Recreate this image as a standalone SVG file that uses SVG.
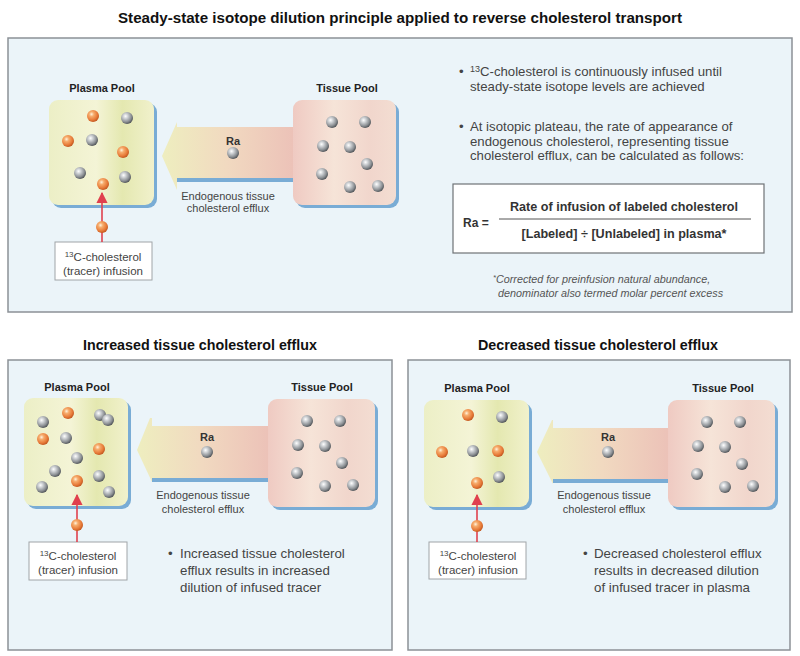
<svg xmlns="http://www.w3.org/2000/svg" width="800" height="656" viewBox="0 0 800 656">
<defs>
<radialGradient id="gGray" cx="0.38" cy="0.35" r="0.65">
<stop offset="0" stop-color="#ffffff"/><stop offset="0.3" stop-color="#cfd2d5"/><stop offset="0.75" stop-color="#8a8e92"/><stop offset="1" stop-color="#55595d"/>
</radialGradient>
<radialGradient id="gOrange" cx="0.38" cy="0.35" r="0.65">
<stop offset="0" stop-color="#fff2dc"/><stop offset="0.3" stop-color="#f6ac6c"/><stop offset="0.75" stop-color="#e77a38"/><stop offset="1" stop-color="#c55a22"/>
</radialGradient>
<linearGradient id="gPlasma" x1="0" x2="1" y1="0" y2="0">
<stop offset="0" stop-color="#ecefc6"/><stop offset="0.45" stop-color="#f4f4d6"/><stop offset="0.7" stop-color="#e4e8b0"/><stop offset="1" stop-color="#f1f1cc"/>
</linearGradient>
<linearGradient id="gTissue" x1="0" x2="1" y1="0" y2="0">
<stop offset="0" stop-color="#efcac2"/><stop offset="0.4" stop-color="#f6e4d8"/><stop offset="0.75" stop-color="#f1d6cc"/><stop offset="1" stop-color="#f3ddd2"/>
</linearGradient>
<linearGradient id="gArrow" x1="0" x2="1" y1="0" y2="0">
<stop offset="0" stop-color="#eeeebf"/><stop offset="0.5" stop-color="#f1d9c0"/><stop offset="1" stop-color="#ecc2b8"/>
</linearGradient>
<marker id="redHead" viewBox="0 0 10 10" refX="9" refY="5" markerWidth="7" markerHeight="7" orient="auto">
<path d="M0,0 L10,5 L0,10 Z" fill="#e0404e"/>
</marker>
<g id="tissueBalls">
<circle class="gb" cx="39" cy="22" r="6"/><circle class="gb" cx="72" cy="22" r="6"/>
<circle class="gb" cx="30" cy="46" r="6"/><circle class="gb" cx="57" cy="47" r="6"/>
<circle class="gb" cx="74" cy="64" r="6"/><circle class="gb" cx="29" cy="74" r="6"/>
<circle class="gb" cx="57" cy="87" r="6"/><circle class="gb" cx="85" cy="86" r="6"/>
</g>
</defs>
<style>
.panel{fill:#ebf4f9;stroke:#8c9196;stroke-width:1.5}
.shadow{fill:#79acd5}
.plasma{fill:url(#gPlasma)}
.tissue{fill:url(#gTissue)}
.arrow{fill:url(#gArrow)}
.gb{fill:url(#gGray)}
.ob{fill:url(#gOrange)}
.lbox{fill:#ffffff;stroke:#a0a4a8;stroke-width:1}
.fbox{fill:#ffffff;stroke:#6e7276;stroke-width:1.2}
.red{stroke:#e0404e;stroke-width:1.6;fill:none}
text{font-family:"Liberation Sans",Arial,sans-serif;fill:#333}
.title{font-size:14.5px;font-weight:bold;fill:#111;text-anchor:middle}
.pool{font-size:11px;font-weight:bold;fill:#222;text-anchor:middle}
.ra{font-size:11px;font-weight:bold;fill:#333;text-anchor:middle}
.small{font-size:11px;fill:#444;text-anchor:middle}
.lab{font-size:11.5px;fill:#444;text-anchor:middle}
.body{font-size:13.2px;fill:#444}
.body2{font-size:13.3px;fill:#444}
.form{font-size:12px;font-weight:bold;fill:#333}
.foot{font-size:10.8px;font-style:italic;fill:#555}
</style>

<!-- ================= TOP PANEL ================= -->
<text class="title" x="400" y="23" textLength="564" lengthAdjust="spacingAndGlyphs">Steady-state isotope dilution principle applied to reverse cholesterol transport</text>
<rect class="panel" x="8" y="38" width="784" height="274"/>

<g id="top-plasma-pool">
<rect class="shadow" x="52" y="103" width="105" height="105" rx="9"/>
<rect class="plasma" x="49" y="100" width="105" height="105" rx="9"/>
<text class="pool" x="102" y="92">Plasma Pool</text>
<circle class="ob" cx="93" cy="116" r="6"/><circle class="gb" cx="127" cy="118" r="6"/>
<circle class="ob" cx="68" cy="141" r="6"/><circle class="gb" cx="92" cy="140" r="6"/>
<circle class="ob" cx="123" cy="152" r="6"/><circle class="gb" cx="80" cy="173" r="6"/>
<circle class="ob" cx="103" cy="184" r="6"/><circle class="gb" cx="125" cy="177" r="6"/>
</g>

<g id="top-tissue-pool">
<rect class="shadow" x="296" y="103" width="103" height="105" rx="9"/>
<rect class="tissue" x="293" y="100" width="103" height="105" rx="9"/>
<text class="pool" x="347" y="92">Tissue Pool</text>
<use href="#tissueBalls" x="293" y="100"/>
</g>

<g id="top-tracer-label">
<rect class="lbox" x="55" y="242" width="97" height="38"/>
<text class="lab" x="103" y="261"><tspan font-size="8" dy="-4">13</tspan><tspan dy="4">C-cholesterol</tspan></text>
<text class="lab" x="103" y="275">(tracer) infusion</text>
</g>

<g id="top-text">
<text class="body" x="459" y="76">•</text>
<text class="body" x="470" y="76"><tspan font-size="9" dy="-4">13</tspan><tspan dy="4">C-cholesterol is continuously infused until</tspan></text>
<text class="body" x="470" y="91">steady-state isotope levels are achieved</text>
<text class="body" x="459" y="131">•</text>
<text class="body" x="470" y="131">At isotopic plateau, the rate of appearance of</text>
<text class="body" x="470" y="146">endogenous cholesterol, representing tissue</text>
<text class="body" x="470" y="160">cholesterol efflux, can be calculated as follows:</text>
</g>

<g id="formula">
<rect class="fbox" x="453" y="184" width="311" height="69"/>
<text class="form" x="463" y="227">Ra =</text>
<line x1="499" y1="219" x2="751" y2="219" stroke="#555" stroke-width="1"/>
<text class="form" x="624" y="211" text-anchor="middle" textLength="228" lengthAdjust="spacingAndGlyphs">Rate of infusion of labeled cholesterol</text>
<text class="form" x="624" y="238" text-anchor="middle" textLength="205" lengthAdjust="spacingAndGlyphs">[Labeled] ÷ [Unlabeled] in plasma*</text>
</g>

<g id="footnote">
<text class="foot" x="493" y="283"><tspan font-size="7.5" dy="-3">*</tspan><tspan dy="3">Corrected for preinfusion natural abundance,</tspan></text>
<text class="foot" x="498" y="297">denominator also termed molar percent excess</text>
</g>

<!-- ================= BOTTOM LEFT PANEL ================= -->
<text class="title" x="200" y="350" textLength="234" lengthAdjust="spacingAndGlyphs">Increased tissue cholesterol efflux</text>
<rect class="panel" x="8" y="360" width="384" height="290"/>

<g id="inc-plasma-pool">
<rect class="shadow" x="27" y="401" width="104" height="108" rx="9"/>
<rect class="plasma" x="24" y="398" width="104" height="108" rx="9"/>
<text class="pool" x="77" y="391">Plasma Pool</text>
<circle class="gb" cx="43" cy="422" r="6"/><circle class="ob" cx="68" cy="413" r="6"/>
<circle class="gb" cx="100" cy="415" r="6"/><circle class="gb" cx="108" cy="420" r="6"/>
<circle class="ob" cx="43" cy="439" r="6"/><circle class="gb" cx="66" cy="438" r="6"/>
<circle class="ob" cx="99" cy="449" r="6"/><circle class="gb" cx="77" cy="458" r="6"/>
<circle class="gb" cx="55" cy="471" r="6"/><circle class="gb" cx="99" cy="476" r="6"/>
<circle class="ob" cx="77" cy="481" r="6"/><circle class="gb" cx="42" cy="487" r="6"/>
<circle class="gb" cx="109" cy="492" r="6"/>
</g>

<g id="inc-tissue-pool">
<rect class="shadow" x="271" y="402" width="107" height="108" rx="9"/>
<rect class="tissue" x="268" y="399" width="107" height="108" rx="9"/>
<text class="pool" x="322" y="391">Tissue Pool</text>
<use href="#tissueBalls" x="268" y="399"/>
</g>

<g id="inc-tracer-label">
<rect class="lbox" x="29" y="542" width="98" height="38"/>
<text class="lab" x="78" y="560"><tspan font-size="8" dy="-4">13</tspan><tspan dy="4">C-cholesterol</tspan></text>
<text class="lab" x="78" y="574">(tracer) infusion</text>
</g>

<g id="inc-text">
<text class="body2" x="168" y="558">•</text>
<text class="body2" x="180" y="558">Increased tissue cholesterol</text>
<text class="body2" x="180" y="575">efflux results in increased</text>
<text class="body2" x="180" y="592">dilution of infused tracer</text>
</g>

<!-- ================= BOTTOM RIGHT PANEL ================= -->
<text class="title" x="598" y="350" textLength="240" lengthAdjust="spacingAndGlyphs">Decreased tissue cholesterol efflux</text>
<rect class="panel" x="408" y="360" width="382" height="290"/>

<g id="dec-plasma-pool">
<rect class="shadow" x="427" y="403" width="105" height="107" rx="9"/>
<rect class="plasma" x="424" y="400" width="105" height="107" rx="9"/>
<text class="pool" x="477" y="392">Plasma Pool</text>
<circle class="ob" cx="468" cy="415" r="6"/><circle class="gb" cx="502" cy="417" r="6"/>
<circle class="ob" cx="442" cy="452" r="6"/><circle class="gb" cx="473" cy="451" r="6"/>
<circle class="ob" cx="498" cy="451" r="6"/><circle class="gb" cx="499" cy="477" r="6"/>
<circle class="ob" cx="477" cy="483" r="6"/>
</g>

<g id="dec-tissue-pool">
<rect class="shadow" x="671" y="403" width="107" height="107" rx="9"/>
<rect class="tissue" x="668" y="400" width="107" height="107" rx="9"/>
<text class="pool" x="723" y="392">Tissue Pool</text>
<use href="#tissueBalls" x="668" y="400"/>
</g>

<g id="dec-tracer-label">
<rect class="lbox" x="429" y="542" width="97" height="37"/>
<text class="lab" x="478" y="560"><tspan font-size="8" dy="-4">13</tspan><tspan dy="4">C-cholesterol</tspan></text>
<text class="lab" x="478" y="574">(tracer) infusion</text>
</g>

<g id="dec-text">
<text class="body2" x="583" y="558">•</text>
<text class="body2" x="594" y="558">Decreased cholesterol efflux</text>
<text class="body2" x="594" y="575">results in decreased dilution</text>
<text class="body2" x="594" y="592">of infused tracer in plasma</text>
</g>

<!-- ================= CONNECTORS ================= -->
<g id="connectors">
<g id="top-ra-arrow">
<rect class="shadow" x="177" y="178" width="116" height="4"/>
<path class="arrow" d="M177,127 L293,127 L293,178 L177,178 L177,190 L162,156 L177,122 Z"/>
<text class="ra" x="233" y="145">Ra</text>
<circle class="gb" cx="233" cy="153" r="6"/>
<text class="small" x="228" y="200">Endogenous tissue</text>
<text class="small" x="228" y="212">cholesterol efflux</text>
</g>
<g id="top-infusion">
<line class="red" x1="102" y1="242" x2="102" y2="193" marker-end="url(#redHead)"/>
<circle class="ob" cx="102" cy="227" r="6"/>
</g>

<g id="inc-ra-arrow">
<rect class="shadow" x="152" y="478" width="116" height="4"/>
<path class="arrow" d="M152,426 L268,426 L268,478 L152,478 L152,482 L137,450 L150,418 L152,418 Z"/>
<text class="ra" x="207" y="441">Ra</text>
<circle class="gb" cx="207" cy="452" r="6"/>
<text class="small" x="203" y="499">Endogenous tissue</text>
<text class="small" x="203" y="513">cholesterol efflux</text>
</g>
<g id="inc-infusion">
<line class="red" x1="77" y1="542" x2="77" y2="495" marker-end="url(#redHead)"/>
<circle class="ob" cx="77" cy="525" r="6"/>
</g>

<g id="dec-ra-arrow">
<rect class="shadow" x="553" y="479" width="115" height="4"/>
<path class="arrow" d="M553,428 L668,428 L668,479 L553,479 L553,484 L537,452 L552,420 L553,420 Z"/>
<text class="ra" x="608" y="441">Ra</text>
<circle class="gb" cx="608" cy="452" r="6"/>
<text class="small" x="604" y="499">Endogenous tissue</text>
<text class="small" x="604" y="513">cholesterol efflux</text>
</g>
<g id="dec-infusion">
<line class="red" x1="477" y1="542" x2="477" y2="495" marker-end="url(#redHead)"/>
<circle class="ob" cx="477" cy="526" r="6"/>
</g>
</g>
</svg>
